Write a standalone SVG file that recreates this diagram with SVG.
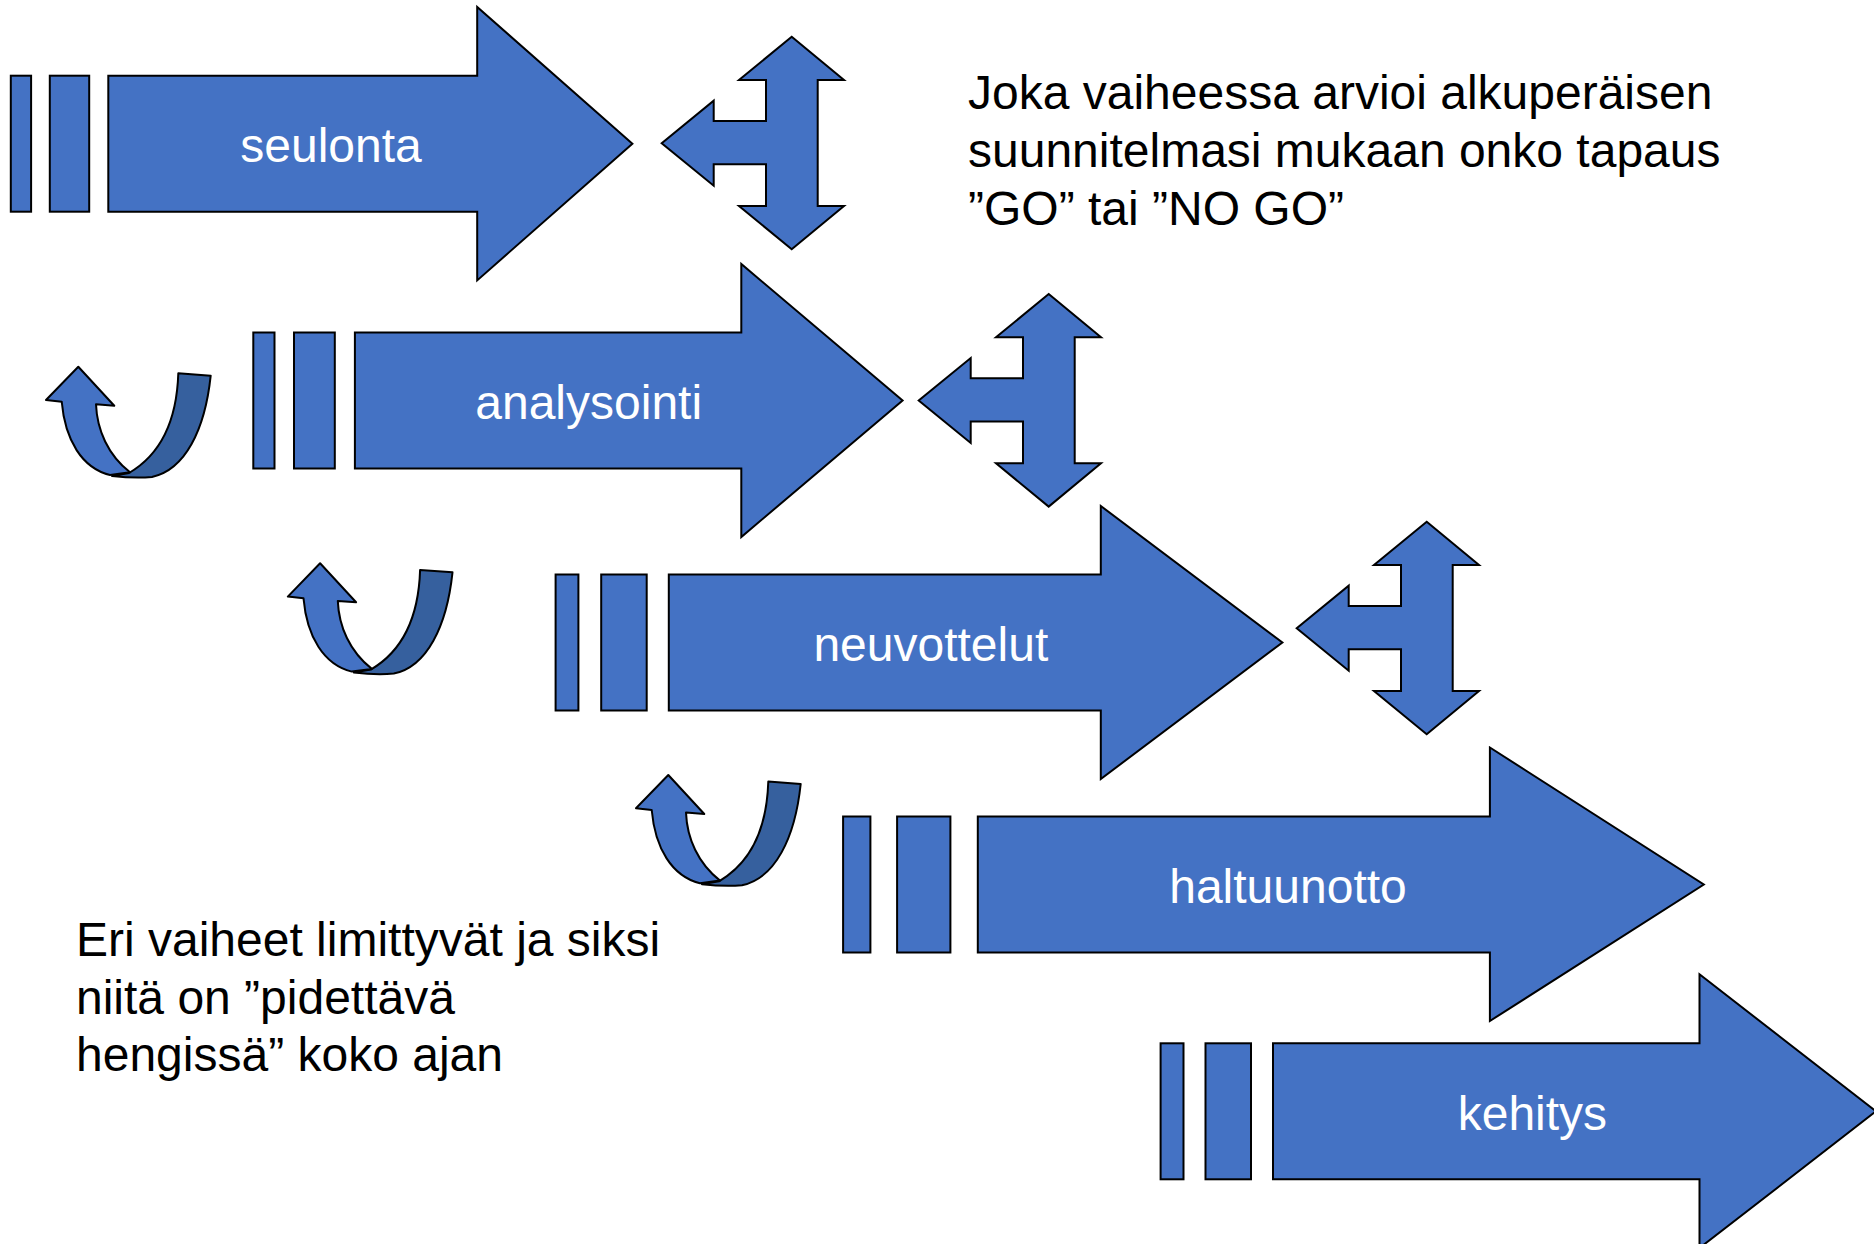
<svg xmlns="http://www.w3.org/2000/svg" xmlns:xlink="http://www.w3.org/1999/xlink" width="1874" height="1244" viewBox="0 0 1874 1244">
<style>
.sh{fill:#4472C4;stroke:#000;stroke-width:2;stroke-linejoin:miter}
.dk{fill:#36609E;stroke:#000;stroke-width:2;stroke-linejoin:round}
.lb{font-family:"Liberation Sans",Arial,sans-serif;font-size:48px;fill:#fff;text-anchor:middle}
.tx{font-family:"Liberation Sans",Arial,sans-serif;font-size:48px;fill:#000}
</style>
<defs>
<path id="tee" class="sh" d="M791.7,36.7 L844,80 L817.7,80 L817.7,206 L844,206 L791.7,249.3 L739,206 L766,206 L766,164.3 L713.7,164.3 L713.7,185.7 L661.7,143.3 L713.7,100.7 L713.7,121 L766,121 L766,80 L739,80 Z"/>
<g id="uturn">
<path class="dk" d="M112,476 C130,478 140,478 152,477 C185,470 205,430 210.7,375.7 L178.3,373.3 C177,415 165,452 129,473 Z"/>
<path class="sh" style="stroke-linejoin:round" d="M46,400 L78.3,366.7 L114.3,405.7 L96,404.3 C97,430 108,455 130,472.3 L110,475 C82,468 65,440 61.7,401.7 Z"/>
</g>
</defs>
<g id="connectors"></g>
<g id="seulonta">
<rect class="sh" x="10.8" y="75.7" width="20.3" height="136"/>
<rect class="sh" x="49.8" y="75.7" width="39.4" height="136"/>
<path class="sh" d="M108.3,75.7 L477.2,75.7 L477.2,7 L632.4,143.7 L477.2,280.4 L477.2,211.7 L108.3,211.7 Z"/>
<text class="lb" x="331" y="162">seulonta</text>
</g>
<g id="analysointi">
<rect class="sh" x="253.3" y="332.5" width="21.2" height="136"/>
<rect class="sh" x="294" y="332.5" width="40.8" height="136"/>
<path class="sh" d="M354.9,332.5 L741.3,332.5 L741.3,264 L902.6,400.5 L741.3,537 L741.3,468.5 L354.9,468.5 Z"/>
<text class="lb" x="588.7" y="418.5">analysointi</text>
</g>
<g id="neuvottelut">
<rect class="sh" x="555.6" y="574.5" width="22.8" height="136"/>
<rect class="sh" x="601.2" y="574.5" width="45.5" height="136"/>
<path class="sh" d="M668.8,574.5 L1100.8,574.5 L1100.8,506 L1282.4,642.5 L1100.8,779 L1100.8,710.5 L668.8,710.5 Z"/>
<text class="lb" x="930.8" y="660.5">neuvottelut</text>
</g>
<g id="haltuunotto">
<rect class="sh" x="843.1" y="816.5" width="27.3" height="136"/>
<rect class="sh" x="897.1" y="816.5" width="53.3" height="136"/>
<path class="sh" d="M977.8,816.5 L1489.9,816.5 L1489.9,747.5 L1703.8,884.5 L1489.9,1021 L1489.9,952.5 L977.8,952.5 Z"/>
<text class="lb" x="1288" y="902.5">haltuunotto</text>
</g>
<g id="kehitys">
<rect class="sh" x="1160.6" y="1043.3" width="22.9" height="136"/>
<rect class="sh" x="1205.5" y="1043.3" width="45.5" height="136"/>
<path class="sh" d="M1273,1043.3 L1699.5,1043.3 L1699.5,974.3 L1876,1111.3 L1699.5,1248 L1699.5,1179.3 L1273,1179.3 Z"/>
<text class="lb" x="1532.4" y="1130">kehitys</text>
</g>
<g id="decision1"><use xlink:href="#tee" href="#tee"/></g>
<g id="decision2"><use xlink:href="#tee" href="#tee" transform="translate(257,257.3)"/></g>
<g id="decision3"><use xlink:href="#tee" href="#tee" transform="translate(635,485)"/></g>
<g id="loop1"><use xlink:href="#uturn" href="#uturn"/></g>
<g id="loop2"><use xlink:href="#uturn" href="#uturn" transform="translate(241.8,196.6)"/></g>
<g id="loop3"><use xlink:href="#uturn" href="#uturn" transform="translate(590,408.3)"/></g>
<g id="note-go">
<text class="tx" x="968" y="109">Joka vaiheessa arvioi alkuperäisen</text>
<text class="tx" x="968" y="167">suunnitelmasi mukaan onko tapaus</text>
<text class="tx" x="968" y="225">”GO” tai ”NO GO”</text>
</g>
<g id="note-overlap">
<text class="tx" x="76" y="956">Eri vaiheet limittyvät ja siksi</text>
<text class="tx" x="76" y="1013.5">niitä on ”pidettävä</text>
<text class="tx" x="76" y="1071">hengissä” koko ajan</text>
</g>
</svg>
